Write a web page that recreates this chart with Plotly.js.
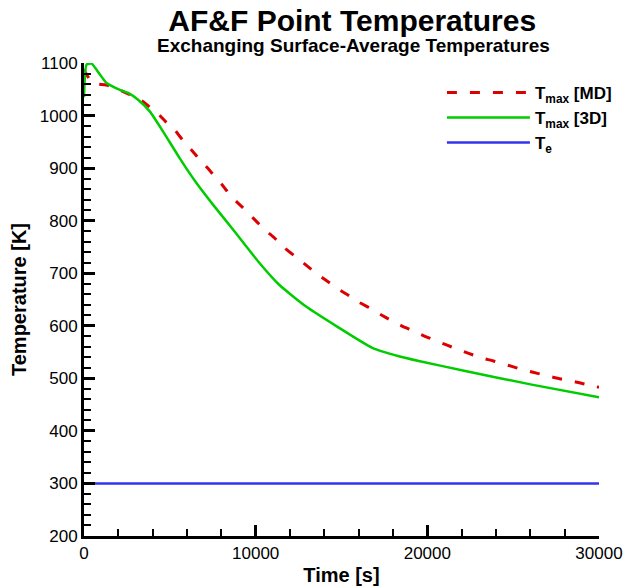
<!DOCTYPE html>
<html>
<head>
<meta charset="utf-8">
<script src="https://cdn.plot.ly/plotly-3.0.1.min.js"></script>
<style>html,body{margin:0;padding:0;background:#fff;}#chart{width:629px;height:586px;}</style>
</head>
<body>
<div id="chart"></div>
<script>
// T_max [MD] (dashed red)
const timeMD = [0,150,500,1300,1900,2600,3200,3800,4300,4800,5300,5800,6250,6750,7200,7700,8100,8550,9050,9600,10000,10600,11100,11650,12500,13100,13600,14300,14800,15450,16000,16700,17300,17950,18500,19200,19800,20550,21150,21800,22450,23150,23850,25400,26100,26850,27450,28200,28800,29550,30000];
const tempMD = [1088,1078,1062,1058,1051,1041,1032,1017,1004,987,972,951,935,916,900,881,866,847,831,814,800,781,767,749,727,711,698,682,670,657,645,633,621,609,600,590,581,571,563,555,547,539,533,518,512,506,501,496,492,486,483];
// T_max [3D] (solid green)
const time3D = [0,150,440,930,1310,2090,2570,3150,3830,4600,5570,6540,7500,8760,10210,11370,12920,14860,16790,18340,19500,22210,26080,30000];
const temp3D = [1035,1097,1099,1078,1062,1049,1043,1030,1008,970,919,872,831,780,720,678,637,596,558,542,533,514,488,464];
// T_e (solid blue)
const timeTe = [0,30000];
const tempTe = [300,300];

const seriesNames = ['T<sub>max</sub> [MD]','T<sub>max</sub> [3D]','T<sub>e</sub>'];
const xRange = [0, 30000];
const yRange = [200, 1100];

const FONT = 'Liberation Sans, Arial, sans-serif';

const traces = [
  {x: timeMD, y: tempMD, name: seriesNames[0], mode: 'lines',
   line: {color: '#dd0000', width: 3, dash: '10px,13px', shape: 'spline', smoothing: 0.6}},
  {x: time3D, y: temp3D, name: seriesNames[1], mode: 'lines',
   line: {color: '#00cc00', width: 2.5, shape: 'spline', smoothing: 0.5}},
  {x: timeTe, y: tempTe, name: seriesNames[2], mode: 'lines',
   line: {color: '#3333ee', width: 2.5}}
];

const axisCommon = {
  showgrid: false, zeroline: false, showline: true, linecolor: '#000', linewidth: 3,
  ticks: 'inside', ticklen: 11, tickwidth: 3, tickcolor: '#000',
  tickfont: {family: FONT, size: 17, color: '#000'},
  tickformat: 'd', mirror: false
};

const layout = {
  width: 629, height: 586,
  margin: {l: 84, r: 28, t: 63, b: 50},
  paper_bgcolor: '#fff', plot_bgcolor: '#fff',
  font: {family: FONT, color: '#000'},
  title: {text: '<b>AF&amp;F Point Temperatures</b>', font: {family: FONT, size: 30, color: '#000'},
          x: 0.56, xanchor: 'center', y: 0.965, yanchor: 'middle', xref: 'container', yref: 'container'},
  annotations: [{text: '<b>Exchanging Surface-Average Temperatures</b>', xref: 'paper', yref: 'paper',
                 x: 0.523, y: 1.036, xanchor: 'center', yanchor: 'middle', showarrow: false,
                 font: {family: FONT, size: 19, color: '#000'}}],
  xaxis: Object.assign({}, axisCommon, {
    range: xRange, tickmode: 'linear', tick0: 0, dtick: 10000,
    minor: {ticks: 'inside', ticklen: 7, tickwidth: 2, tickcolor: '#000', dtick: 2000, showgrid: false},
    title: {text: '<b>Time [s]</b>', font: {family: FONT, size: 20, color: '#000'}, standoff: 6}
  }),
  yaxis: Object.assign({}, axisCommon, {
    range: yRange, tickmode: 'linear', tick0: 200, dtick: 100,
    minor: {ticks: 'inside', ticklen: 7, tickwidth: 2, tickcolor: '#000', dtick: 20, showgrid: false},
    title: {text: '<b>Temperature [K]</b>', font: {family: FONT, size: 20, color: '#000'}, standoff: 8}
  }),
  showlegend: true,
  legend: {x: 0.695, y: 0.975, xanchor: 'left', yanchor: 'top', bgcolor: 'rgba(0,0,0,0)',
           font: {family: FONT, size: 17, color: '#000', weight: 'bold'}, itemwidth: 83, tracegroupgap: 0}
};

Plotly.newPlot('chart', traces, layout, {displayModeBar: false, staticPlot: true});
</script>
</body>
</html>
